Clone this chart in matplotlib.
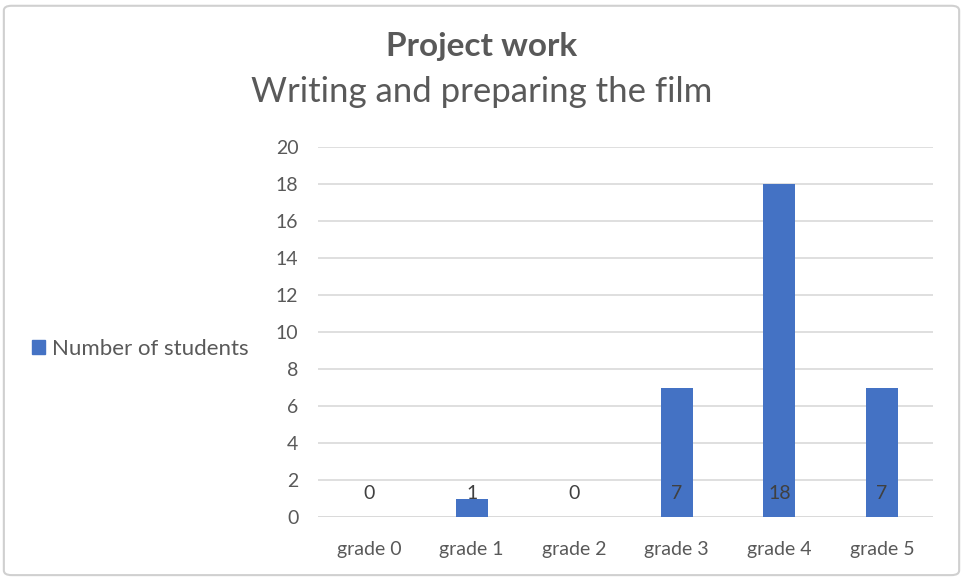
import matplotlib.pyplot as plt
from matplotlib.patches import Patch, FancyBboxPatch

plt.rcParams['font.family'] = ['Lato', 'DejaVu Sans']

grades = ['grade 0', 'grade 1', 'grade 2', 'grade 3', 'grade 4', 'grade 5']
students = [0, 1, 0, 7, 18, 7]
yticks = list(range(0, 21, 2))

bar_color = '#4472c4'
text_color = '#595959'
grid_color = '#d9d9d9'

fig = plt.figure(figsize=(9.63, 5.78), dpi=100)
ax = fig.add_axes([0.330, 0.1055, 0.639, 0.6402])

x = range(len(grades))
ax.bar(x, students, width=0.31, color=bar_color, zorder=3)

# labels sit inside the base of each bar like excel does
for i, v in enumerate(students):
    ax.annotate(str(v), (i, 0), xytext=(0, 24), textcoords='offset pixels',
                ha='center', va='center', fontsize=14, color='#404040', zorder=4)

ax.set_xlim(-0.5, len(grades) - 0.5)
ax.set_ylim(0, 20)
ax.set_yticks(yticks)
ax.set_xticks(list(x))
ax.set_xticklabels(grades)
ax.yaxis.grid(True, color=grid_color, linewidth=1.2, zorder=0)
ax.tick_params(axis='both', length=0, labelsize=14, labelcolor=text_color)
ax.tick_params(axis='x', pad=17)
ax.tick_params(axis='y', pad=14)
for s in ax.spines.values():
    s.set_visible(False)
ax.axhline(0, color=grid_color, linewidth=1.2, zorder=2)

fig.text(0.5, 0.919, 'Project work', ha='center', va='center', fontsize=24,
         fontweight='bold', color=text_color)
fig.text(0.5, 0.84, 'Writing and preparing the film', ha='center', va='center',
         fontsize=25, color=text_color)

fig.legend(handles=[Patch(color=bar_color, label='Number of students')],
           loc='center left', bbox_to_anchor=(0.012, 0.396), frameon=False,
           fontsize=16, labelcolor=text_color, handlelength=0.6, handleheight=0.6,
           handletextpad=0.3)

border = FancyBboxPatch((0.004, 0.005), 0.992, 0.985, boxstyle='round,pad=0,rounding_size=0.008',
                        transform=fig.transFigure, fill=False, edgecolor='#d0d0d0', linewidth=1.5)
fig.patches.append(border)

fig.savefig('out.png', dpi=100)
